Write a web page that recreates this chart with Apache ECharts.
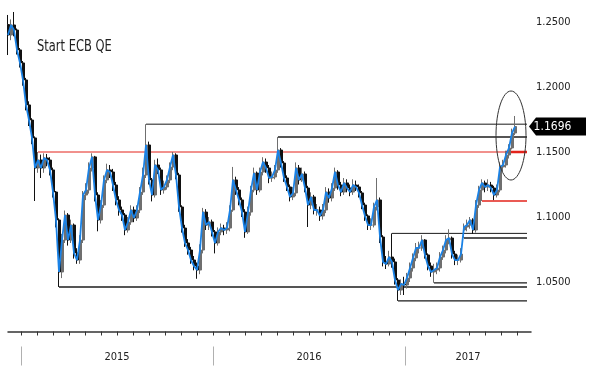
<!DOCTYPE html>
<html><head><meta charset="utf-8">
<script src="https://cdn.jsdelivr.net/npm/echarts@6/dist/echarts.min.js"></script>
<style>html,body{margin:0;padding:0;background:#fff}#c{width:600px;height:380px}</style>
</head><body><div id="c"></div>
<script>
// ---------- data ----------
const years = ['2015', '2016', '2017'];
const priceTicks = [1.05, 1.10, 1.15, 1.20, 1.25];
const closes = [
1.2400,1.2477,1.2438,1.2285,1.2185,1.2054,1.1862,1.1746,1.1608,1.1377,
1.1438,1.1377,1.1454,1.1438,1.1362,1.1192,1.0977,1.0577,1.0823,1.1015,
1.0823,1.0938,1.0723,1.0669,1.0823,1.1169,1.1208,1.1377,1.1462,1.1169,
1.0977,1.1092,1.1285,1.1362,1.1346,1.1246,1.1131,1.1054,1.1015,1.0900,
1.0962,1.1054,1.0992,1.1054,1.1192,1.1323,1.1554,1.1285,1.1169,1.1400,
1.1362,1.1208,1.1231,1.1285,1.1385,1.1477,1.1323,1.1077,1.0915,1.0800,
1.0746,1.0669,1.0623,1.0592,1.0746,1.1038,1.0938,1.0962,1.0885,1.0800,
1.0885,1.0915,1.0900,1.0915,1.1054,1.1285,1.1208,1.1131,1.1038,1.0885,
1.1038,1.1208,1.1338,1.1208,1.1346,1.1423,1.1377,1.1300,1.1308,1.1362,
1.1515,1.1415,1.1300,1.1231,1.1154,1.1185,1.1377,1.1285,1.1331,1.1223,
1.1092,1.1154,1.1054,1.1054,1.1008,1.1054,1.1192,1.1146,1.1223,1.1346,
1.1246,1.1192,1.1262,1.1223,1.1192,1.1246,1.1231,1.1185,1.1092,1.1008,
1.0938,1.0938,1.1077,1.1131,1.0846,1.0654,1.0638,1.0692,1.0654,1.0515,
1.0438,1.0485,1.0477,1.0531,1.0608,1.0685,1.0762,1.0762,1.0823,1.0708,
1.0623,1.0577,1.0592,1.0608,1.0692,1.0746,1.0823,1.0838,1.0715,1.0669,
1.0669,1.0715,1.0923,1.0938,1.0977,1.0900,1.1092,1.1208,1.1262,1.1231,
1.1246,1.1223,1.1169,1.1208,1.1385,1.1400,1.1477,1.1531,1.1646,1.1696
];
const highs = [
1.2554,1.2520,1.2577,1.2450,1.2300,1.2200,1.2070,1.1890,1.1760,1.1620,
1.1500,1.1480,1.1490,1.1485,1.1460,1.1380,1.1200,1.0990,1.0870,1.1050,
1.1030,1.0980,1.0950,1.0760,1.0860,1.1200,1.1260,1.1420,1.1490,1.1470,
1.1190,1.1130,1.1320,1.1410,1.1400,1.1370,1.1270,1.1160,1.1080,1.1030,
1.1000,1.1090,1.1080,1.1090,1.1230,1.1380,1.1714,1.1580,1.1300,1.1440,
1.1450,1.1380,1.1280,1.1320,1.1420,1.1500,1.1490,1.1340,1.1090,1.0940,
1.0830,1.0770,1.0700,1.0650,1.0790,1.1070,1.1060,1.1000,1.0980,1.0900,
1.0920,1.0950,1.0940,1.0960,1.1090,1.1385,1.1310,1.1230,1.1150,1.1060,
1.1080,1.1240,1.1380,1.1350,1.1380,1.1460,1.1450,1.1400,1.1350,1.1400,
1.1616,1.1530,1.1430,1.1320,1.1250,1.1230,1.1420,1.1400,1.1380,1.1350,
1.1240,1.1190,1.1170,1.1100,1.1080,1.1100,1.1230,1.1220,1.1260,1.1380,
1.1360,1.1270,1.1300,1.1290,1.1250,1.1290,1.1280,1.1250,1.1200,1.1110,
1.1020,1.0990,1.1110,1.1300,1.1150,1.0860,1.0700,1.0740,1.0874,1.0680,
1.0530,1.0520,1.0540,1.0570,1.0650,1.0720,1.0800,1.0810,1.0860,1.0830,
1.0720,1.0650,1.0640,1.0650,1.0730,1.0780,1.0860,1.0906,1.0850,1.0740,
1.0710,1.0760,1.0950,1.0980,1.1000,1.0990,1.1130,1.1240,1.1290,1.1280,
1.1290,1.1270,1.1240,1.1250,1.1420,1.1440,1.1510,1.1560,1.1680,1.1777
];
const lows = [
1.2246,1.2360,1.2390,1.2250,1.2150,1.2010,1.1820,1.1700,1.1560,1.1123,
1.1340,1.1300,1.1340,1.1390,1.1320,1.1150,1.0920,1.0462,1.0530,1.0800,
1.0780,1.0800,1.0680,1.0640,1.0640,1.0800,1.1130,1.1180,1.1350,1.1120,
1.0890,1.0950,1.1070,1.1260,1.1300,1.1200,1.1090,1.1010,1.0970,1.0860,
1.0880,1.0940,1.0960,1.0970,1.1030,1.1170,1.1300,1.1250,1.1120,1.1150,
1.1330,1.1170,1.1180,1.1210,1.1260,1.1360,1.1290,1.1040,1.0880,1.0770,
1.0710,1.0640,1.0590,1.0525,1.0560,1.0720,1.0900,1.0900,1.0850,1.0720,
1.0780,1.0860,1.0860,1.0870,1.0890,1.1040,1.1170,1.1090,1.1000,1.0840,
1.0870,1.1010,1.1190,1.1170,1.1190,1.1320,1.1340,1.1260,1.1270,1.1290,
1.1340,1.1380,1.1270,1.1200,1.1120,1.1130,1.1160,1.1250,1.1270,1.1190,
1.0923,1.1060,1.1020,1.1010,1.0970,1.0980,1.1030,1.1110,1.1120,1.1200,
1.1210,1.1160,1.1170,1.1190,1.1160,1.1170,1.1200,1.1150,1.1060,1.0970,
1.0900,1.0900,1.0920,1.1050,1.0800,1.0620,1.0600,1.0620,1.0610,1.0480,
1.0355,1.0400,1.0400,1.0450,1.0500,1.0580,1.0660,1.0720,1.0740,1.0680,
1.0590,1.0540,1.0494,1.0560,1.0580,1.0670,1.0720,1.0790,1.0680,1.0630,
1.0630,1.0650,1.0838,1.0890,1.0910,1.0870,1.0880,1.1070,1.1123,1.1190,
1.1200,1.1190,1.1130,1.1150,1.1190,1.1350,1.1380,1.1450,1.1520,1.1630
];
const firstOpen = 1.2480;
const gapOpens = {152: 1.0900};
const lastPrice = 1.1696;
const levelPrices    = [1.1714, 1.1616, 1.1500, 1.1123, 1.0874, 1.0838, 1.0494, 1.0462, 1.0355];
const levelStartBars = [46,     90,     10,     158,    128,    152,    142,    17,     130];
const highlightPrice = 1.1500;
const highlightStartBar = 166;
const annotation = 'Start ECB QE';

// ---------- layout / style ----------
const FONT = "'DejaVu Sans Condensed','Liberation Sans Narrow',sans-serif";
const levelStyles = [
  {color:'#1a1a1a', width:1}, {color:'#555', width:2}, {color:'#e3231b', width:1},
  {color:'#e3231b', width:1.5}, {color:'#1a1a1a', width:1}, {color:'#555', width:2},
  {color:'#1a1a1a', width:1.2}, {color:'#555', width:2}, {color:'#1a1a1a', width:1.2}
];
const firstBarMonth = -0.8125, barStepMonths = 0.1875, axisEndMonth = 31.875, levelEndMonth = 31.625;

const months = closes.map((_, i) => firstBarMonth + i * barStepMonths);
const opens = closes.map((c, i) => gapOpens[i] !== undefined ? gapOpens[i] : (i === 0 ? firstOpen : closes[i - 1]));
const candles = closes.map((c, i) => [months[i], opens[i], c, lows[i], highs[i]]);
const closeLine = closes.map((c, i) => [months[i], c]);
const monthTicks = []; for (let m = 0; m < axisEndMonth; m++) monthTicks.push(m);
const yearStarts = years.map((_, k) => 12 * k);
const yearCenters = years.map((_, k) => (12 * k + Math.min(12 * k + 12, axisEndMonth)) / 2);

const levelSeries = levelPrices.map((p, k) => ({
  type: 'line', xAxisIndex: 0, yAxisIndex: 0, symbol: 'none', silent: true, z: 1,
  data: [[months[levelStartBars[k]], p], [levelEndMonth, p]],
  lineStyle: {color: levelStyles[k].color, width: levelStyles[k].width}
}));
levelSeries.push({
  type: 'line', xAxisIndex: 0, yAxisIndex: 0, symbol: 'none', silent: true, z: 2,
  data: [[months[highlightStartBar], highlightPrice], [levelEndMonth, highlightPrice]],
  lineStyle: {color: '#e3231b', width: 2.5}
});

const hiddenY = (g) => ({type: 'value', gridIndex: g, min: -1, max: 1, show: false});
const last = closes.length - 1;

const option = {
  animation: false,
  backgroundColor: '#fff',
  grid: [
    {left: 8, right: 69, top: 22, bottom: 33},
    {left: 8, right: 69, top: 331, height: 1},
    {left: 21, right: 69, top: 331, height: 1},
    {left: 21, right: 69, top: 346, height: 1}
  ],
  xAxis: [
    {type: 'value', gridIndex: 0, min: firstBarMonth, max: axisEndMonth, show: false},
    {type: 'value', gridIndex: 1, min: 0, max: 1, position: 'bottom',
      axisLine: {show: true, lineStyle: {color: '#333', width: 1.5}},
      axisTick: {show: false}, axisLabel: {show: false}, splitLine: {show: false}},
    {type: 'value', gridIndex: 2, min: 0, max: axisEndMonth, position: 'bottom',
      axisLine: {show: false},
      axisTick: {show: true, length: 4, customValues: monthTicks, lineStyle: {color: '#333', width: 1}},
      axisLabel: {show: false}, splitLine: {show: false}},
    {type: 'value', gridIndex: 3, min: 0, max: axisEndMonth, position: 'bottom',
      axisLine: {show: false},
      axisTick: {show: true, length: 19, customValues: yearStarts, lineStyle: {color: '#b0b0b0', width: 1}},
      axisLabel: {show: true, margin: 10, verticalAlign: 'middle', customValues: yearCenters,
        formatter: (v) => years[Math.min(years.length - 1, Math.floor(v / 12))],
        color: '#222', fontSize: 11, fontFamily: FONT},
      splitLine: {show: false}}
  ],
  yAxis: [
    {type: 'value', gridIndex: 0, min: 1.0, max: 1.25, position: 'right',
      axisLine: {show: false}, axisTick: {show: false}, splitLine: {show: false},
      axisLabel: {show: true, customValues: priceTicks, margin: 5, formatter: (v) => v.toFixed(4),
        color: '#222', fontSize: 11, fontFamily: FONT}},
    hiddenY(1), hiddenY(2), hiddenY(3)
  ],
  series: [
    ...levelSeries,
    {type: 'candlestick', xAxisIndex: 0, yAxisIndex: 0, clip: false, z: 3,
      dimensions: ['m', 'open', 'close', 'low', 'high'],
      encode: {x: 0, y: [1, 2, 3, 4]},
      barWidth: 2.5,
      itemStyle: {color: '#6f6f6f', color0: '#111', borderColor: '#6f6f6f', borderColor0: '#111', borderWidth: 1},
      data: candles},
    {type: 'line', xAxisIndex: 0, yAxisIndex: 0, clip: false, z: 4, symbol: 'none',
      lineStyle: {color: '#1a82e6', width: 1.8},
      data: closeLine,
      markPoint: {
        silent: true,
        symbol: 'path://M0,9L7,0L57,0L57,18L7,18Z',
        symbolSize: [57, 18], symbolKeepAspect: false, symbolOffset: [42.5, 0],
        itemStyle: {color: '#000'},
        label: {show: true, position: 'inside', offset: [-5, 0], color: '#fff', fontSize: 12, fontFamily: FONT,
          formatter: () => lastPrice.toFixed(4)},
        data: [{coord: [months[last], lastPrice], value: lastPrice}]
      }},
    {type: 'scatter', xAxisIndex: 3, yAxisIndex: 3, data: [], silent: true}
  ],
  graphic: [
    {type: 'ellipse', shape: {cx: 511, cy: 135.5, rx: 15, ry: 44.5}, silent: true, z: 10,
      style: {fill: 'none', stroke: '#333', lineWidth: 1}},
    {type: 'text', x: 37, y: 47, scaleX: 0.85, silent: true,
      style: {text: annotation, font: '15px ' + FONT, fill: '#222', verticalAlign: 'middle'}}
  ]
};
const chart = echarts.init(document.getElementById('c'), null, {renderer: 'canvas'});
chart.setOption(option);
</script></body></html>
